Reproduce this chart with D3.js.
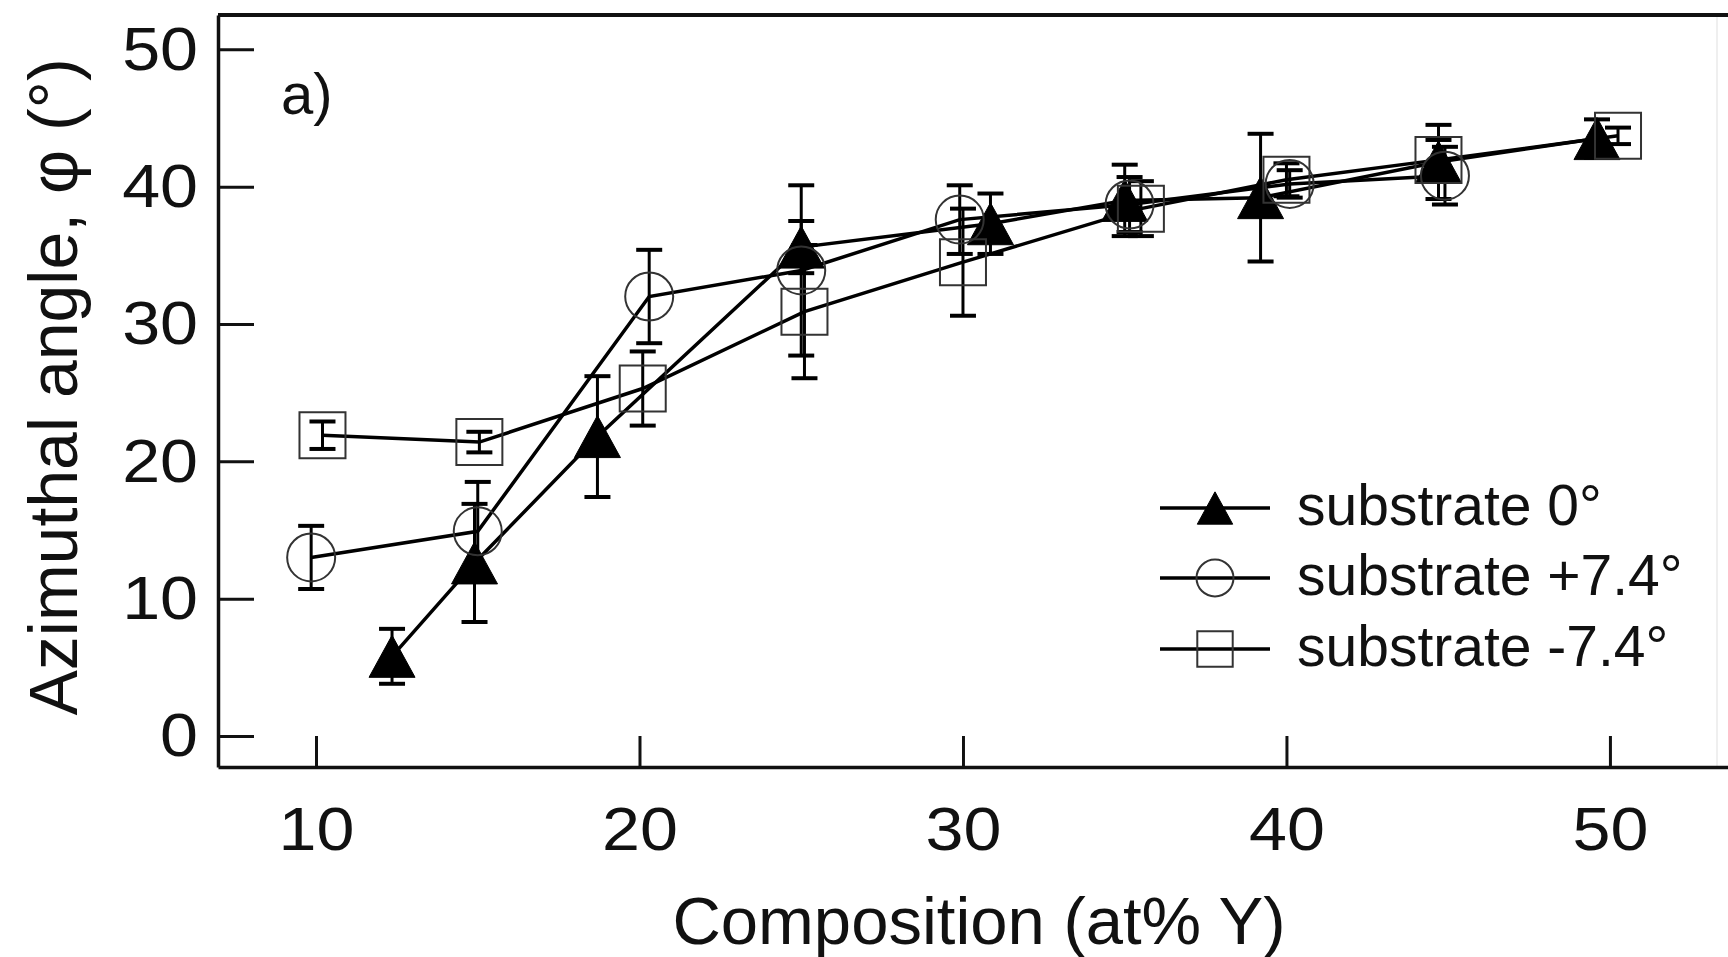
<!DOCTYPE html>
<html>
<head>
<meta charset="utf-8">
<script src="https://cdn.jsdelivr.net/npm/d3@7"></script>
<style>
  body { margin: 0; background: #fff; }
  text { font-family: "Liberation Sans", Arial, Helvetica, sans-serif; fill: #111; }
</style>
</head>
<body>
<div id="chart"></div>
<script>
// values
const seriesNames = ["substrate 0°", "substrate +7.4°", "substrate -7.4°"];

const tri_x = [12.35, 14.9, 18.7, 25.0, 30.85, 35.0, 39.2, 44.7, 49.6];
const tri_y = [5.8, 12.6, 21.8, 35.6, 37.3, 39.0, 39.2, 41.8, 43.5];
const tri_err = [2.0, 4.3, 4.4, 1.9, 2.2, 2.6, 4.65, 2.7, 1.4];

const circ_x = [9.85, 15.0, 20.3, 25.0, 29.9, 35.15, 40.1, 44.9];
const circ_y = [13.0, 14.9, 32.0, 33.9, 37.6, 38.7, 40.2, 40.8];
const circ_err = [2.3, 3.6, 3.4, 6.2, 2.5, 2.0, 1.0, 2.1];

const sq_x = [10.2, 15.05, 20.1, 25.1, 30.0, 35.5, 40.0, 44.7, 50.25];
const sq_y = [21.9, 21.4, 25.3, 30.9, 34.5, 38.4, 40.5, 41.95, 43.7];
const sq_err = [1.0, 0.75, 2.7, 4.85, 3.9, 2.0, 1.2, 1.45, 0.6];

const xTicks = [10, 20, 30, 40, 50];
const yTicks = [0, 10, 20, 30, 40, 50];

const size = { width: 1728, height: 957 };
const margin = { left: 218, right: 0, top: 15, bottom: 190 };

const svg = d3.select("#chart")
  .append("svg")
  .attr("width", size.width)
  .attr("height", size.height);

svg.append("rect").attr("width", size.width).attr("height", size.height).attr("fill", "#fff");

const x = d3.scaleLinear()
  .domain([6.97, 53.65])
  .range([margin.left, size.width - margin.right]);

const y = d3.scaleLinear()
  .domain([-2.26, 52.5])
  .range([size.height - margin.bottom, margin.top]);

const zip = (xs, ys, es) => xs.map((v, i) => ({ x: v, y: ys[i], e: es[i] }));
const series = [
  { name: seriesNames[0], kind: "tri", values: zip(tri_x, tri_y, tri_err) },
  { name: seriesNames[1], kind: "circ", values: zip(circ_x, circ_y, circ_err) },
  { name: seriesNames[2], kind: "sq", values: zip(sq_x, sq_y, sq_err) },
];

// marker shapes, s = scale factor (legend markers are smaller)
const markerPath = (kind, s) => {
  if (kind === "tri") {
    const w = 46 * s, h = 42 * s;
    return `M0,${-h / 2}L${w / 2},${h / 2}L${-w / 2},${h / 2}Z`;
  }
  if (kind === "circ") {
    const r = 24 * s;
    return `M${r},0A${r},${r} 0 1,1 ${-r},0A${r},${r} 0 1,1 ${r},0Z`;
  }
  const a = 23 * s;
  return `M${-a},${-a}H${a}V${a}H${-a}Z`;
};

const styleMarker = (sel, kind) => {
  if (kind === "tri") sel.attr("fill", "#000").attr("stroke", "#000").attr("stroke-width", 1);
  else sel.attr("fill", "none").attr("stroke", "#333").attr("stroke-width", 2);
};

// faint right edge and the top frame line
svg.append("line")
  .attr("x1", 1717).attr("x2", 1717)
  .attr("y1", y.range()[1]).attr("y2", y.range()[0])
  .attr("stroke", "#efefef").attr("stroke-width", 2);

svg.append("line")
  .attr("x1", x.range()[0]).attr("x2", x.range()[1])
  .attr("y1", y.range()[1]).attr("y2", y.range()[1])
  .attr("stroke", "#111").attr("stroke-width", 4);

// axes with inward ticks
const xAxis = svg.append("g")
  .attr("transform", `translate(0, ${y.range()[0]})`)
  .call(d3.axisBottom(x).tickValues(xTicks).tickSizeInner(-31).tickSizeOuter(0).tickPadding(39));

const yAxis = svg.append("g")
  .attr("transform", `translate(${x.range()[0]}, 0)`)
  .call(d3.axisLeft(y).tickValues(yTicks).tickSizeInner(-36).tickSizeOuter(0).tickPadding(20));

[xAxis, yAxis].forEach((ax) => {
  ax.select(".domain").attr("stroke", "#111").attr("stroke-width", 3.5);
  ax.selectAll(".tick line").attr("stroke", "#111").attr("stroke-width", 3);
  ax.selectAll(".tick text")
    .style("font-size", "62px")
    .style("font-family", "Liberation Sans, Arial, sans-serif")
    .attr("fill", "#111");
});

// tick digits are drawn a bit wider than plain Arial
const sx = 1.1;
xAxis.selectAll(".tick text").attr("transform", `scale(${sx},1)`);
yAxis.selectAll(".tick text").attr("x", -20 / sx).attr("transform", `scale(${sx},1)`);

// connecting lines
const line = d3.line().x((d) => x(d.x)).y((d) => y(d.y));

svg.selectAll(".seriesLine")
  .data(series)
  .join("path")
  .attr("class", "seriesLine")
  .attr("fill", "none")
  .attr("stroke", "#000")
  .attr("stroke-width", 3.5)
  .attr("d", (d) => line(d.values));

// error bars
const capW = 13;
series.forEach((s) => {
  const g = svg.append("g").attr("class", "err-" + s.kind)
    .attr("stroke", "#000").attr("stroke-width", 3).attr("fill", "none");
  const bars = g.selectAll("g").data(s.values).join("g");
  bars.append("line")
    .attr("x1", (d) => x(d.x)).attr("x2", (d) => x(d.x))
    .attr("y1", (d) => y(d.y - d.e)).attr("y2", (d) => y(d.y + d.e));
  bars.append("line")
    .attr("stroke-width", 4)
    .attr("x1", (d) => x(d.x) - capW).attr("x2", (d) => x(d.x) + capW)
    .attr("y1", (d) => y(d.y + d.e)).attr("y2", (d) => y(d.y + d.e));
  bars.append("line")
    .attr("stroke-width", 4)
    .attr("x1", (d) => x(d.x) - capW).attr("x2", (d) => x(d.x) + capW)
    .attr("y1", (d) => y(d.y - d.e)).attr("y2", (d) => y(d.y - d.e));
});

// markers
series.forEach((s) => {
  svg.selectAll(".mk-" + s.kind)
    .data(s.values)
    .join("path")
    .attr("class", "mk-" + s.kind)
    .attr("transform", (d) => `translate(${x(d.x)},${y(d.y)})`)
    .attr("d", markerPath(s.kind, 1))
    .call(styleMarker, s.kind);
});

// panel label
svg.append("text")
  .attr("x", 281).attr("y", 114)
  .style("font-size", "58px")
  .text("a)");

// legend
const legendRows = [508, 578, 649];
const legend = svg.append("g");
series.forEach((s, i) => {
  const row = legend.append("g").attr("transform", `translate(0, ${legendRows[i]})`);
  row.append("line")
    .attr("x1", 1160).attr("x2", 1270).attr("y1", 0).attr("y2", 0)
    .attr("stroke", "#000").attr("stroke-width", 3.5);
  row.append("path")
    .attr("transform", "translate(1215, 0)")
    .attr("d", markerPath(s.kind, 0.77))
    .call(styleMarker, s.kind);
  row.append("text")
    .attr("x", 1297).attr("y", 17)
    .style("font-size", "57px")
    .text(s.name);
});

// axis titles
svg.append("text")
  .attr("x", 979).attr("y", 944)
  .attr("text-anchor", "middle")
  .style("font-size", "67px")
  .text("Composition (at% Y)");

svg.append("text")
  .attr("transform", "translate(77, 387) rotate(-90)")
  .attr("text-anchor", "middle")
  .style("font-size", "68px")
  .text("Azimuthal angle, φ (°)");
</script>
</body>
</html>
